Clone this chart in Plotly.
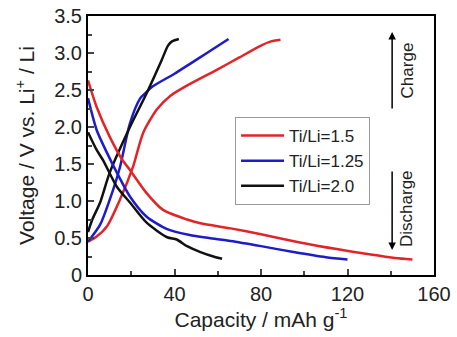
import plotly.graph_objects as go

# Ti/Li = 1.5 (red)
red_charge_x = [0, 4, 8.8, 14.8, 20.8, 25.5, 31.9, 38, 47, 60, 70, 80, 85, 89]
red_charge_y = [0.45, 0.52, 0.66, 1.02, 1.46, 1.92, 2.24, 2.42, 2.58, 2.78, 2.94, 3.10, 3.16, 3.18]
red_dis_x = [0, 4, 10, 16, 19.4, 27, 34.7, 45.8, 52, 66, 80, 98, 115, 130, 142, 150]
red_dis_y = [2.63, 2.27, 1.87, 1.55, 1.42, 1.11, 0.88, 0.75, 0.70, 0.63, 0.55, 0.44, 0.35, 0.28, 0.23, 0.21]

# Ti/Li = 1.25 (blue)
blue_charge_x = [0, 5.6, 11.6, 14.8, 19.4, 24, 27, 30, 40, 47, 55, 65]
blue_charge_y = [0.45, 0.68, 1.15, 1.46, 2.05, 2.38, 2.47, 2.55, 2.72, 2.85, 3.00, 3.19]
blue_dis_x = [0, 4, 8.8, 13.4, 19.4, 27, 36.6, 47, 56, 66, 80, 95, 110, 120]
blue_dis_y = [2.39, 1.96, 1.65, 1.38, 1.06, 0.79, 0.62, 0.54, 0.50, 0.46, 0.39, 0.31, 0.24, 0.21]

# Ti/Li = 2.0 (black)
black_charge_x = [0, 2, 5.6, 10, 19.4, 27, 34, 37, 39, 42]
black_charge_y = [0.58, 0.75, 0.98, 1.38, 2.00, 2.45, 2.90, 3.10, 3.16, 3.19]
black_dis_x = [0, 4, 7, 13.4, 19.4, 27, 36.6, 41, 45.8, 52, 58, 62]
black_dis_y = [1.93, 1.69, 1.55, 1.19, 0.98, 0.71, 0.51, 0.48, 0.39, 0.31, 0.25, 0.22]

x_ticks = [0, 40, 80, 120, 160]
y_ticks = [0, 0.5, 1.0, 1.5, 2.0, 2.5, 3.0, 3.5]
y_ticktext = ["0", "0.5", "1.0", "1.5", "2.0", "2.5", "3.0", "3.5"]

RED = "#e22428"
BLUE = "#1c1cc8"
BLACK = "#111111"
LW = 2.5

fig = go.Figure()
series = [
    ("Ti/Li=1.5", RED, red_charge_x, red_charge_y, red_dis_x, red_dis_y),
    ("Ti/Li=1.25", BLUE, blue_charge_x, blue_charge_y, blue_dis_x, blue_dis_y),
    ("Ti/Li=2.0", BLACK, black_charge_x, black_charge_y, black_dis_x, black_dis_y),
]
for name, col, cx, cy, dx, dy in series:
    fig.add_trace(go.Scatter(x=cx, y=cy, mode="lines", name=name,
                             line=dict(color=col, width=LW, shape="spline", smoothing=0.7)))
for name, col, cx, cy, dx, dy in series:
    fig.add_trace(go.Scatter(x=dx, y=dy, mode="lines", name=name, showlegend=False,
                             line=dict(color=col, width=LW, shape="spline", smoothing=0.7)))

font_family = "Liberation Sans, Arial, sans-serif"

fig.update_layout(
    width=457, height=337,
    margin=dict(l=88, r=23, t=16, b=62),
    paper_bgcolor="white", plot_bgcolor="white",
    font=dict(family=font_family, color="#222222"),
    showlegend=True,
    legend=dict(x=0.425, y=0.61, xanchor="left", yanchor="top",
                bordercolor="#999999", borderwidth=1, bgcolor="white",
                font=dict(size=17, family=font_family),
                tracegroupgap=0, itemwidth=43),
    xaxis=dict(range=[0, 160], tickvals=x_ticks, ticks="inside", ticklen=6, tickwidth=1.5,
               minor=dict(ticks="inside", dtick=20, ticklen=4, tickwidth=1.5),
               showline=True, linecolor="black", linewidth=2, mirror=True,
               showgrid=False, zeroline=False, automargin=False,
               tickfont=dict(size=20),
               title=dict(text="Capacity / mAh g<sup>-1</sup>", font=dict(size=21), standoff=6)),
    yaxis=dict(range=[0, 3.5], tickvals=y_ticks, ticktext=y_ticktext, ticks="inside", ticklen=6, tickwidth=1.5,
               minor=dict(ticks="inside", dtick=0.25, ticklen=4, tickwidth=1.5),
               showline=True, linecolor="black", linewidth=2, mirror=True,
               showgrid=False, zeroline=False, automargin=False,
               tickfont=dict(size=20),
               title=dict(text="Voltage / V vs. Li<sup>+</sup> / Li", font=dict(size=21), standoff=14)),
)

# Charge / Discharge arrows
arrow_kw = dict(xref="x domain", yref="y domain", axref="x domain", ayref="y domain",
                text="", showarrow=True, arrowhead=2, arrowsize=1, arrowwidth=1.5, arrowcolor="black")
fig.add_annotation(x=0.879, y=0.938, ax=0.879, ay=0.637, **arrow_kw)
fig.add_annotation(x=0.879, y=0.0965, ax=0.879, ay=0.405, **arrow_kw)
fig.add_annotation(x=0.922, y=0.79, xref="x domain", yref="y domain", text="Charge", showarrow=False,
                   xanchor="center", yanchor="middle",
                   textangle=-90, font=dict(size=17, family=font_family))
fig.add_annotation(x=0.922, y=0.255, xref="x domain", yref="y domain", text="Discharge", showarrow=False,
                   xanchor="center", yanchor="middle",
                   textangle=-90, font=dict(size=17, family=font_family))

fig.write_html("out.html")
